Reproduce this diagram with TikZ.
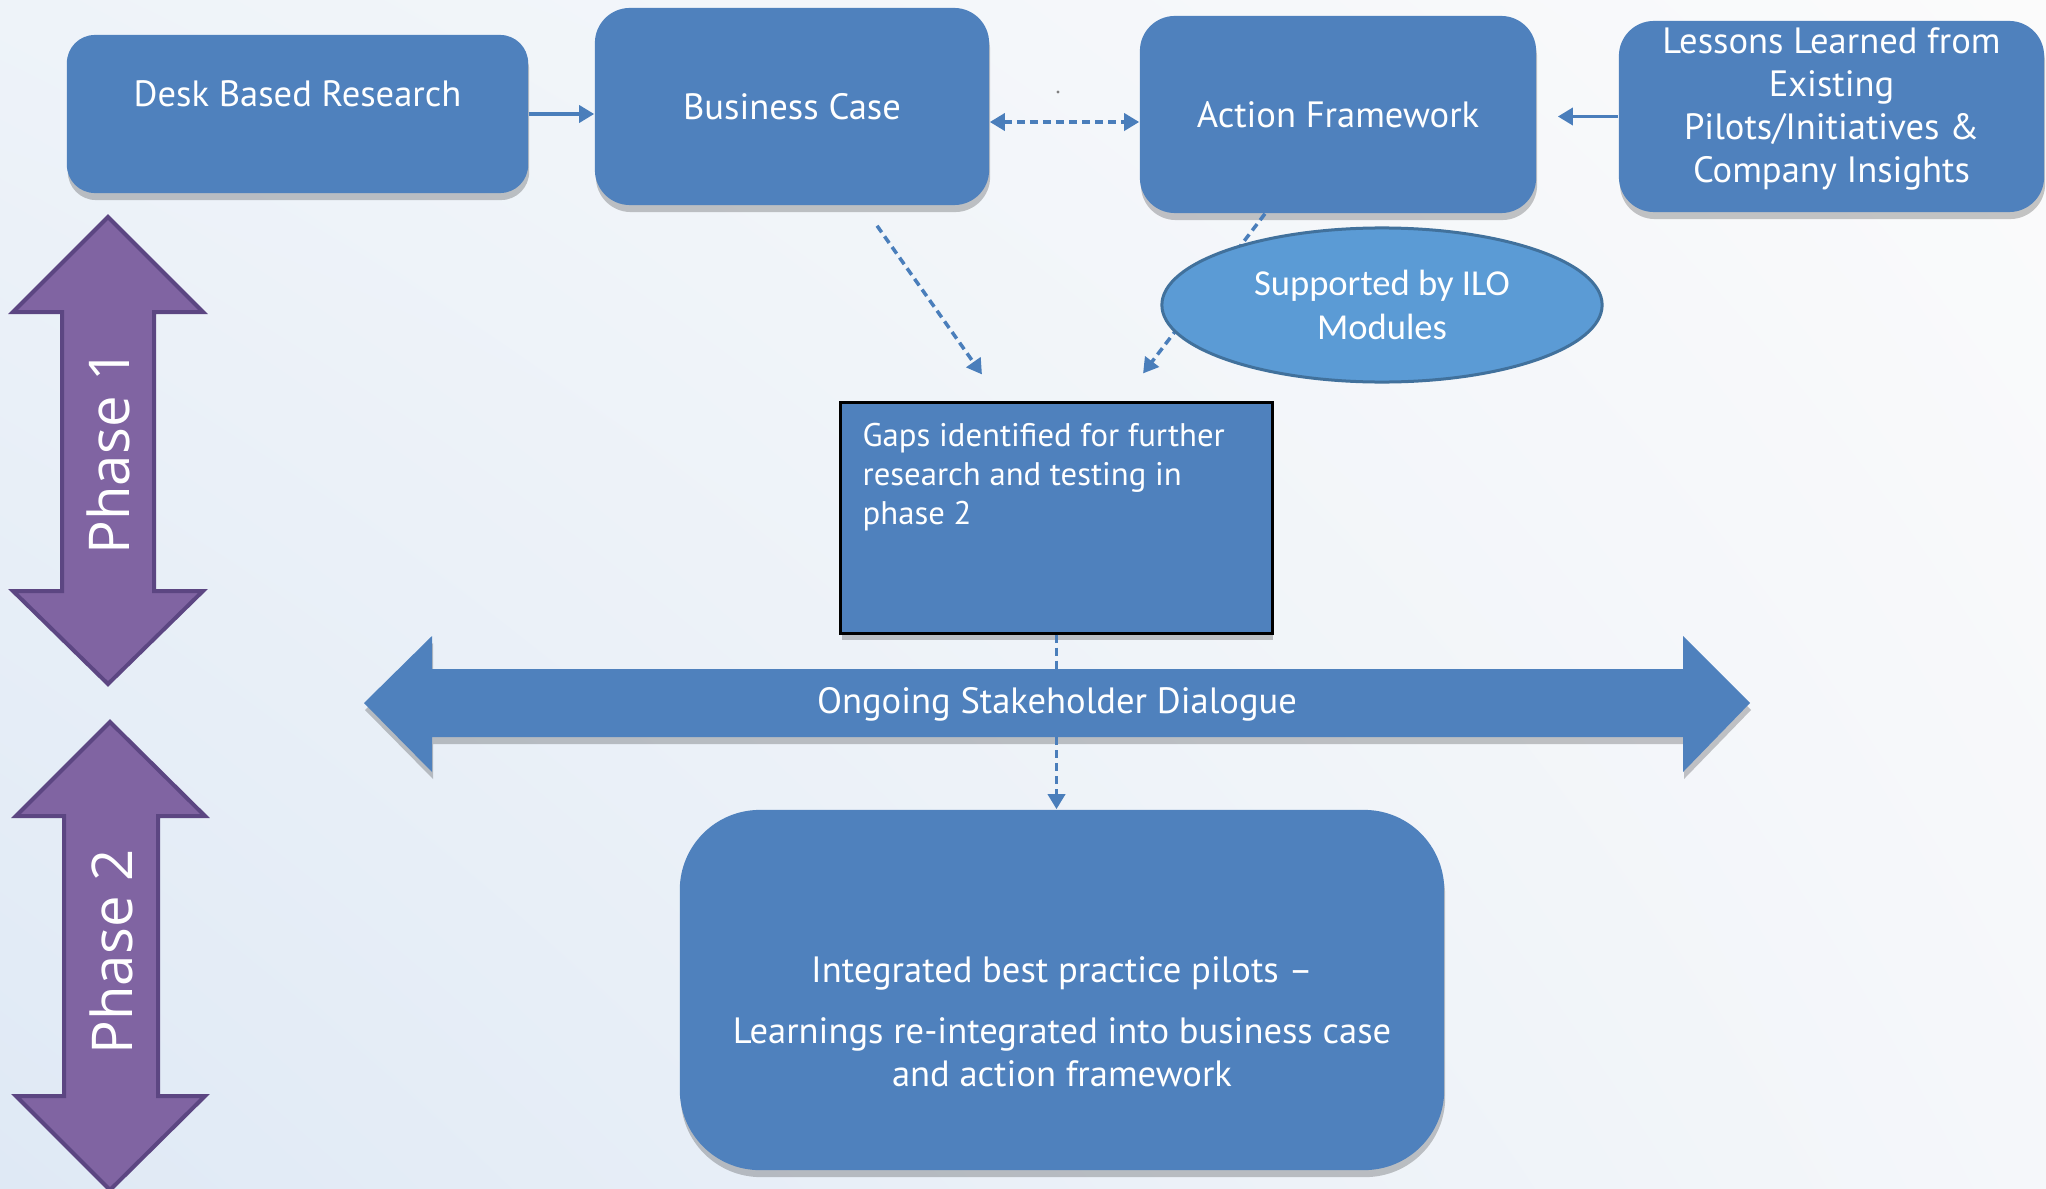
\documentclass[tikz,border=0pt]{standalone}
\usepackage{fontspec}
\setmainfont{PT Sans}
\newfontfamily\calib{Carlito}
\newfontfamily\phasefont{Open Sans}
\usetikzlibrary{shapes.geometric,arrows.meta,shadows,shadings}
\definecolor{boxblue}{HTML}{4F81BD}
\definecolor{lineblue}{HTML}{4A7EBB}
\definecolor{ellfill}{HTML}{5B9BD5}
\definecolor{ellline}{HTML}{41719C}
\definecolor{purp}{HTML}{8064A2}
\definecolor{purpline}{HTML}{5C4682}
\definecolor{bgA}{HTML}{DFE9F5}
\definecolor{bgB}{HTML}{EEF3F9}
\definecolor{bgC}{HTML}{F5F7FA}
\definecolor{bgD}{HTML}{FBFBFB}
\newcommand{\mainsz}{\fontsize{10.4}{12.2}\selectfont}
\newcommand{\gapsz}{\fontsize{9.3}{11}\selectfont}
\begin{document}
\begin{tikzpicture}[x=0.01cm,y=-0.01cm,
  shad/.style={drop shadow={shadow xshift=0.01cm,shadow yshift=-0.07cm,opacity=0.22,fill=black}},
  rbox/.style={fill=boxblue,rounded corners=0.3cm,shad,inner sep=0pt},
  txt/.style={text=white,font=\mainsz,align=center,inner sep=0pt},
  conn/.style={draw=lineblue,line width=1pt},
  dsh/.style={dash pattern=on 0.08cm off 0.05cm},
  arr/.style={-{Triangle[length=0.15cm,width=0.17cm]}},
  darr/.style={{Triangle[length=0.15cm,width=0.17cm]}-{Triangle[length=0.15cm,width=0.17cm]}},
  phase/.style={fill=purp,draw=purpline,line width=0.04cm,line join=miter},
  phtxt/.style={text=white,font=\phasefont\fontsize{16}{19}\selectfont,rotate=90}]
\useasboundingbox (0,0) rectangle (2046,1188);
\shade[lower left=bgA,upper left=bgB,lower right=bgC,upper right=bgD] (0,0) rectangle (2046,1188);

% phase arrows
\path[phase] (108,217) -- (203,312) -- (154,312) -- (154,591) -- (203,591) -- (108,684) -- (13,591) -- (62,591) -- (62,312) -- (13,312) -- cycle;
\node[phtxt] (p1) at (108,452) {Phase 1};
\path[phase] (110,722) -- (205,816) -- (158,816) -- (158,1096) -- (205,1096) -- (110,1190) -- (16,1096) -- (64,1096) -- (64,816) -- (16,816) -- cycle;
\node[phtxt] (p2) at (111,952) {Phase 2};

% top boxes
\node[rbox,minimum width=4.61cm,minimum height=1.58cm,rounded corners=0.28cm] (desk) at (297.5,114) {};
\node[txt] (deskt) at (297.5,94) {Desk Based Research};
\node[rbox,minimum width=3.94cm,minimum height=1.97cm,rounded corners=0.35cm] (bc) at (792,106.5) {};
\node[txt] (bct) at (792,106.5) {Business Case};
\node[rbox,minimum width=3.96cm,minimum height=1.97cm,rounded corners=0.35cm] (af) at (1338,114.5) {};
\node[txt] (aft) at (1338,114.5) {Action Framework};
\node[rbox,minimum width=4.25cm,minimum height=1.91cm,rounded corners=0.35cm] (ll) at (1831.5,116.5) {};
\node[txt] (llt) at (1831.5,109) {Lessons Learned from\\Existing\\Pilots/Initiatives \&\\Company Insights};

\fill[gray] (1058,92) circle (1.6);

% gaps box
\node[fill=boxblue,draw=black,line width=0.03cm,shad,minimum width=4.31cm,minimum height=2.30cm,inner sep=0pt] (gaps) at (1056.5,518) {};
\node[anchor=north west,text=white,font=\gapsz,align=left,inner sep=0pt] (gapst) at (862,423) {Gaps identified for further\\research and testing in\\phase 2};

% connectors top
\draw[conn,arr] (desk.east) -- (bc.west |- desk.east);
\coordinate (m1) at ([yshift=-0.155cm]bc.east);
\draw[conn,dsh,darr] (m1) -- (m1 -| af.west);
\draw[conn,arr] (ll.west) -- ([xshift=0.21cm]af.east |- ll.west);
\draw[conn,dsh,arr] ([xshift=0.85cm,yshift=-0.2cm]bc.south) -- ([xshift=-0.745cm,yshift=0.27cm]gaps.north);
\draw[conn,dsh,arr] ([xshift=-0.73cm]af.south) -- ([xshift=0.865cm,yshift=0.28cm]gaps.north);

% ellipse
\node[ellipse,fill=ellfill,draw=ellline,line width=0.03cm,minimum width=4.4cm,minimum height=1.54cm,text=white,font=\calib\fontsize{10.4}{12.5}\selectfont,align=center,inner sep=0pt] (ilo) at (1382,305) {Supported by ILO\\Modules};

% stakeholder arrow
\path[fill=boxblue,shad] (364,703) -- (432,636) -- (432,669) -- (1683,669) -- (1683,636) -- (1750,703) -- (1683,772) -- (1683,737) -- (432,737) -- (432,772) -- cycle;
\node[txt] (sd) at (1057,704) {Ongoing Stakeholder Dialogue};
\coordinate (sdtop) at (1056.5,669);
\coordinate (sdbot) at (1056.5,737);

% integrated box
\node[rbox,minimum width=7.64cm,minimum height=3.60cm,rounded corners=0.8cm] (integ) at (1062,990) {};
\node[txt] (integt) at (1062,1022) {Integrated best practice pilots --\\[0.18cm]Learnings re-integrated into business case\\and action framework};

\draw[conn,dsh] (gaps.south) -- (sdtop);
\draw[conn,dsh,arr] (sdbot) -- (sdbot |- integ.north);
\end{tikzpicture}
\end{document}
